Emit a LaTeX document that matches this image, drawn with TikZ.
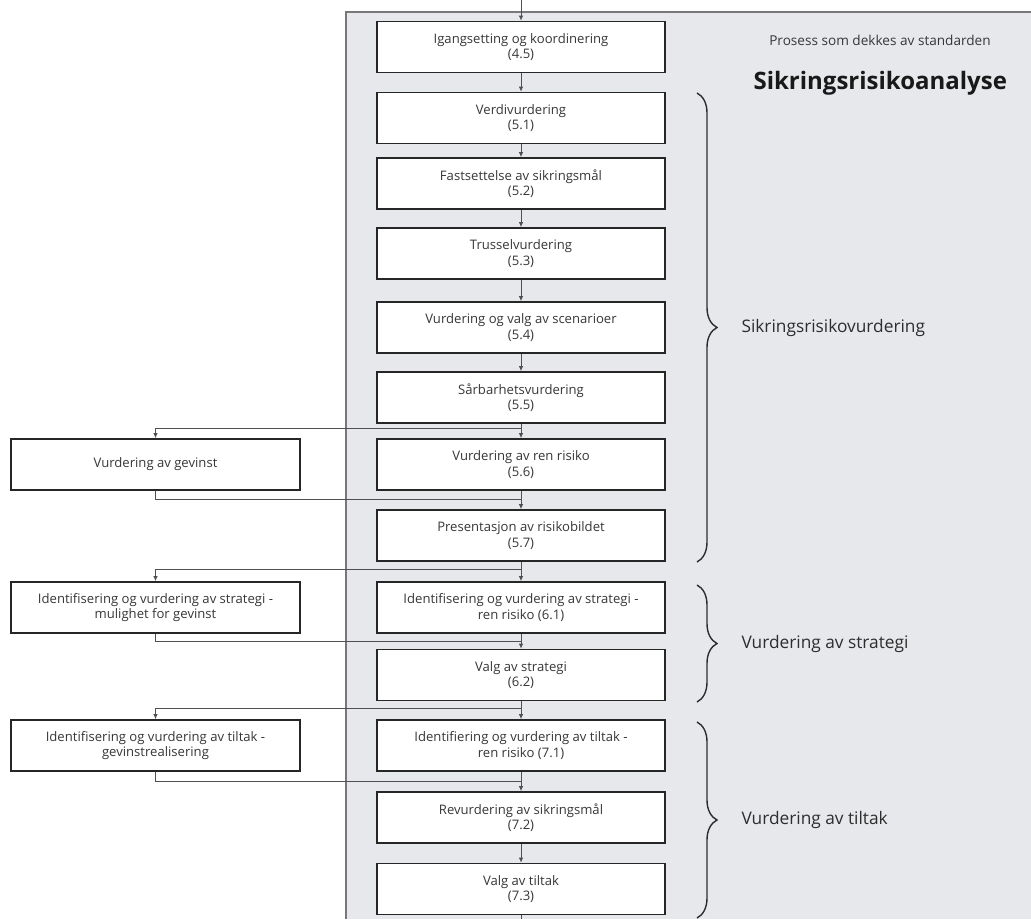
\documentclass[tikz,border=0pt]{standalone}
\usepackage{fontspec}
\setmainfont{Open Sans}
\usetikzlibrary{arrows.meta,decorations.pathreplacing}
\definecolor{panel}{RGB}{230,232,235}
\definecolor{panelborder}{RGB}{120,120,120}
\definecolor{textgray}{RGB}{55,55,55}
\definecolor{linegray}{RGB}{80,80,80}
\definecolor{labelgray}{RGB}{45,45,45}
\begin{document}
\begin{tikzpicture}[x=1pt,y=-1pt,
  box/.style={draw=black!85, line width=1.6pt, fill=white, minimum width=288pt, minimum height=51pt,
    inner sep=0pt, align=center, font=\fontsize{13.1}{15.5}\selectfont, text=textgray},
  conn/.style={draw=linegray, line width=0.9pt},
  arr/.style={conn, -{Latex[length=5pt,width=4.5pt]}},
  bracestyle/.style={draw=labelgray, line width=1.4pt, decorate, decoration={brace, amplitude=20pt}},
  blabel/.style={anchor=west, font=\fontsize{17.3}{20}\selectfont, text=labelgray}
]
\useasboundingbox (0,0) rectangle (1031,919);
% panel
\fill[panel] (346,12) rectangle (1031,919);
\draw[panelborder, line width=1.3pt] (346,919) -- (346,12) -- (1031,12);

% main column
\node[box] (b1) at (521,47) {Igangsetting og koordinering\\(4.5)};
\node[box] (b2) at (521,118) {Verdivurdering\\(5.1)};
\node[box] (b3) at (521,183.5) {Fastsettelse av sikringsmål\\(5.2)};
\node[box] (b4) at (521,253.5) {Trusselvurdering\\(5.3)};
\node[box] (b5) at (521,327.5) {Vurdering og valg av scenarioer\\(5.4)};
\node[box] (b6) at (521,397.5) {Sårbarhetsvurdering\\(5.5)};
\node[box] (b7) at (521,464.5) {Vurdering av ren risiko\\(5.6)};
\node[box] (b8) at (521,535.5) {Presentasjon av risikobildet\\(5.7)};
\node[box] (b9) at (521,607.5) {Identifisering og vurdering av strategi -\\ren risiko (6.1)};
\node[box] (b10) at (521,675) {Valg av strategi\\(6.2)};
\node[box] (b11) at (521,745.5) {Identifiering og vurdering av tiltak -\\ren risiko (7.1)};
\node[box] (b12) at (521,817.5) {Revurdering av sikringsmål\\(7.2)};
\node[box] (b13) at (521,889) {Valg av tiltak\\(7.3)};

% left column
\node[box, minimum width=289pt] (L1) at (155.5,464.5) {Vurdering av gevinst};
\node[box, minimum width=289pt] (L2) at (155.5,607.5) {Identifisering og vurdering av strategi -\\mulighet for gevinst};
\node[box, minimum width=289pt] (L3) at (155.5,745.5) {Identifisering og vurdering av tiltak -\\gevinstrealisering};

% main connectors
\coordinate (top) at (521,0);
\coordinate (bot) at (521,919);
\draw[arr] (top) -- (b1);
\foreach \a/\b in {b1/b2,b2/b3,b3/b4,b4/b5,b5/b6,b6/b7,b7/b8,b8/b9,b9/b10,b10/b11,b11/b12,b12/b13}
  \draw[arr] (\a) -- (\b);
\draw[conn] (b13) -- (bot);

% branches
\coordinate (j1) at (521,428);
\coordinate (k1) at (521,499);
\coordinate (j2) at (521,569);
\coordinate (k2) at (521,641);
\coordinate (j3) at (521,708);
\coordinate (k3) at (521,781);
\draw[arr] (j1) -| (L1);
\draw[conn] (L1) |- (k1);
\draw[arr] (j2) -| (L2);
\draw[conn] (L2) |- (k2);
\draw[arr] (j3) -| (L3);
\draw[conn] (L3) |- (k3);

% header texts
\node[font=\fontsize{13.6}{16}\selectfont, text=textgray] (proc) at (880,40) {Prosess som dekkes av standarden};
\node[anchor=west, font=\bfseries\fontsize{24}{28}\selectfont, text=black!90] (title) at (750,83) {Sikringsrisikoanalyse};

% braces
\draw[bracestyle] (697,93) -- (697,562);
\draw[bracestyle] (697,585) -- (697,702);
\draw[bracestyle] (697,722) -- (697,918);
\node[blabel] (g1) at (738,327.5) {Sikringsrisikovurdering};
\node[blabel] (g2) at (738,643.5) {Vurdering av strategi};
\node[blabel] (g3) at (738,820) {Vurdering av tiltak};
\end{tikzpicture}
\end{document}
